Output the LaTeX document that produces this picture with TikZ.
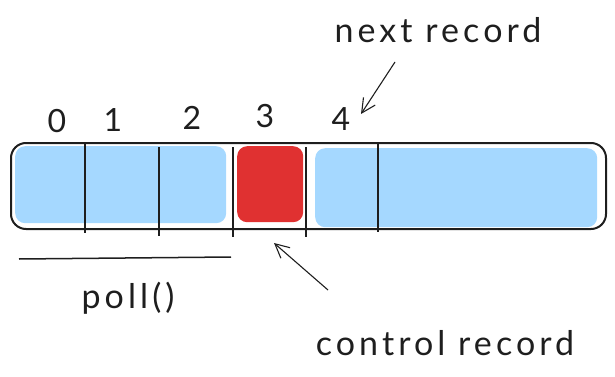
\documentclass[tikz,border=0pt]{standalone}
\usepackage{fontspec}
\setmainfont{Lato}
\newfontfamily\widelato{Lato}[LetterSpace=12]
\usetikzlibrary{arrows.meta}
\definecolor{ink}{HTML}{1E1E1E}
\definecolor{lblue}{HTML}{A5D8FF}
\definecolor{lred}{HTML}{E03131}
\tikzset{
  frame/.style={draw=ink, line width=2pt, rounded corners=15pt, inner sep=0pt, anchor=north west},
  cell/.style={fill=#1, draw=none, rounded corners=10pt, inner sep=0pt, anchor=north west},
  sep/.style={draw=ink, line width=2.8pt},
  lbl/.style={text=ink, font=\widelato\fontsize{34}{40}\selectfont, inner sep=0pt},
  idx/.style={text=ink, font=\fontsize{32}{38}\selectfont, inner sep=0pt},
  ptr/.style={draw=ink, line width=1.1pt, -{Straight Barb[length=14pt,width=14pt]}}
}
\begin{document}
\begin{tikzpicture}[x=1pt,y=-1pt]
\useasboundingbox (0,0) rectangle (615,377);
% cells
\node[cell=lblue, minimum width=211pt, minimum height=77pt] (b1) at (15,146) {};
\node[cell=lred, minimum width=66pt, minimum height=76pt] (red) at (237,146) {};
\node[cell=lblue, minimum width=282pt, minimum height=79pt] (b2) at (315,148) {};
% frame
\node[frame, minimum width=595pt, minimum height=86pt] (frame) at (10,142) {};
% separators
\coordinate (s1a) at (85,144); \coordinate (s1b) at (85,233);
\coordinate (s2a) at (159,147); \coordinate (s2b) at (159,236);
\coordinate (s3a) at (233,147); \coordinate (s3b) at (233,237);
\coordinate (s4a) at (306,147); \coordinate (s4b) at (306,237);
\coordinate (s5a) at (378,143); \coordinate (s5b) at (378,232);
\draw[sep] (s1a) -- (s1b);
\draw[sep] (s2a) -- (s2b);
\draw[sep] (s3a) -- (s3b);
\draw[sep] (s4a) -- (s4b);
\draw[sep, line width=2.2pt] (s5a) -- (s5b);
% indices
\node[idx] (i0) at (57,121) {0};
\node[idx] (i1) at (113,120) {1};
\node[idx] (i2) at (192,118) {2};
\node[idx] (i3) at (265,116) {3};
\node[idx] (i4) at (341,119) {4};
% labels
\node[lbl] (next) at (438,30) {next record};
\node[lbl] (ctrl) at (445,343) {control record};
\node[lbl] (poll) at (128,298) {poll()};
% poll line
\coordinate (pl) at (19,259); \coordinate (pr) at (231,257);
\draw[draw=ink, line width=1.5pt] (pl) -- (pr);
% arrows
\coordinate (ns) at (395,62); \coordinate (ne) at (361,114);
\draw[ptr] (ns) -- (ne);
\coordinate (cs) at (328,290); \coordinate (ce) at (274,243);
\draw[ptr] (cs) -- (ce);
\end{tikzpicture}
\end{document}
